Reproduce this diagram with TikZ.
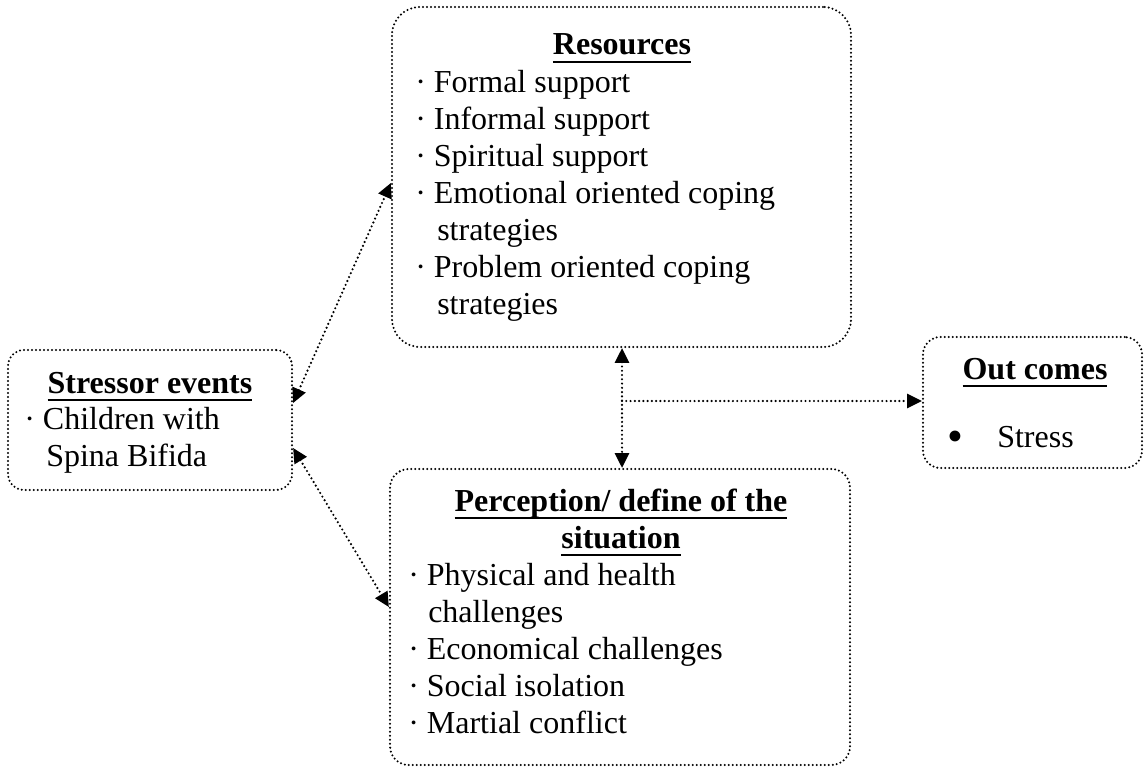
\documentclass[tikz,border=0pt]{standalone}
\usepackage{fontspec}
\setmainfont{Liberation Serif}
\usetikzlibrary{arrows.meta}
\newcommand\ulbox[1]{\sbox0{#1}\rlap{\rule[-6.2pt]{\wd0}{2pt}}\usebox0}
\begin{document}
\begin{tikzpicture}[x=0.75pt,y=-0.75pt,
  boxstyle/.style={draw, line width=1.7pt, dash pattern=on 0pt off 3pt, line cap=round, rectangle, inner sep=0pt},
  conn/.style={line width=1.8pt, dash pattern=on 0pt off 3.2pt, line cap=round, {Triangle[length=11pt,width=10.5pt]}-{Triangle[length=11pt,width=10.5pt]}},
  conr/.style={line width=1.8pt, dash pattern=on 0pt off 3.2pt, line cap=round, -{Triangle[length=11pt,width=10.5pt]}},
  txt/.style={anchor=base west, inner sep=0pt, font=\fontsize{24pt}{27.75pt}\selectfont},
  ttl/.style={anchor=base, inner sep=0pt, font=\fontsize{24pt}{27.75pt}\selectfont\bfseries}]
\useasboundingbox (0,0) rectangle (1144,767);
% boxes
\node[boxstyle, rounded corners=21pt, minimum width=344.25pt, minimum height=255pt] (r) at (621.5,177) {};
\node[boxstyle, rounded corners=14pt, minimum width=345pt, minimum height=222pt] (p) at (620,617) {};
\node[boxstyle, rounded corners=13pt, minimum width=164.25pt, minimum height=98.25pt] (o) at (1032.5,402.5) {};
\node[boxstyle, rounded corners=12pt, minimum width=213pt, minimum height=105pt] (s) at (150,420) {};
% Resources text
\node[ttl] (rt) at (622,55) {\ulbox{Resources}};
\node[txt] (r1) at (415,92) {· Formal support};
\node[txt] (r2) at (415,129) {· Informal support};
\node[txt] (r3) at (415,166) {· Spiritual support};
\node[txt] (r4) at (415,203) {· Emotional oriented coping};
\node[txt] (r5) at (437,240) {strategies};
\node[txt] (r6) at (415,277) {· Problem oriented coping};
\node[txt] (r7) at (437,314) {strategies};
% Perception text
\node[ttl] (pt1) at (621,511) {\ulbox{Perception/ define of the}};
\node[ttl] (pt2) at (621,548) {\ulbox{situation}};
\node[txt] (p1) at (408,585) {· Physical and health};
\node[txt] (p2) at (428,622) {challenges};
\node[txt] (p3) at (408,659) {· Economical challenges};
\node[txt] (p4) at (408,696) {· Social isolation};
\node[txt] (p5) at (408,733) {· Martial conflict};
% Stressor text
\node[ttl] (st) at (150,393) {\ulbox{Stressor events}};
\node[txt] (s1) at (24,429) {· Children with};
\node[txt] (s2) at (46,466) {Spina Bifida};
% Outcomes text
\node[ttl] (ot) at (1035,379) {\ulbox{Out comes}};
\node[anchor=base, inner sep=0pt, font=\fontsize{34pt}{34pt}\selectfont] (ob) at (955,451) {•};
\node[txt] (o1) at (997,447) {Stress};
% connectors
\draw[conn] (s.east |- 0,403) -- (r.west |- 0,183);
\draw[conn] (s.east |- 0,448) -- (p.west |- 0,607);
\draw[conn] (r.south -| 622,0) -- (p.north -| 622,0);
\coordinate (j) at (622,401);
\draw[conr] (j) -- (o.west |- j);
\end{tikzpicture}
\end{document}
